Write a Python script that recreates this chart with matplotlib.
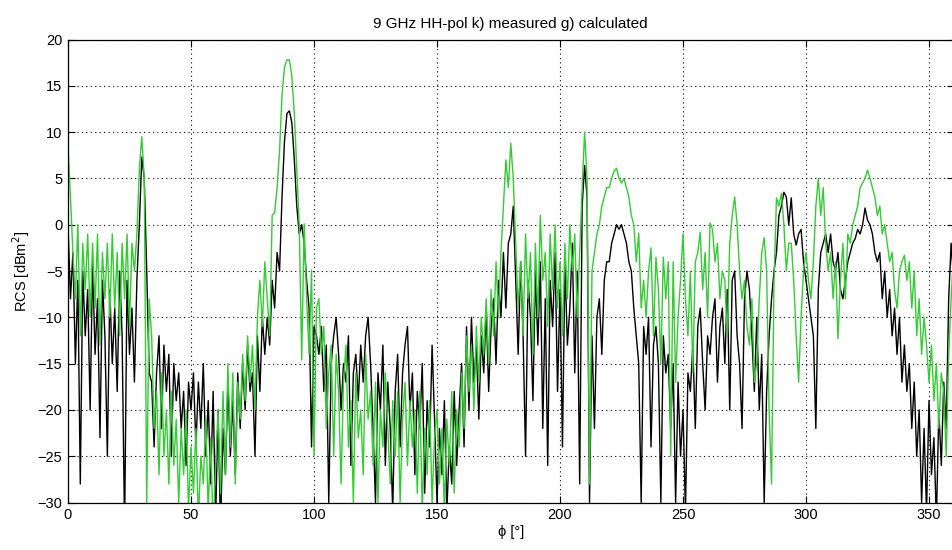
import numpy as np
import matplotlib
matplotlib.use("Agg")
import matplotlib.pyplot as plt

plt.rcParams['font.family'] = ['Liberation Sans', 'DejaVu Sans']

title = "9 GHz HH-pol k) measured g) calculated"
xlabel = "ϕ [°]"
ylabel = "RCS [dBm$^2$]"
xticks = [0, 50, 100, 150, 200, 250, 300, 350]
yticks = [-30, -25, -20, -15, -10, -5, 0, 5, 10, 15, 20]

# angle in degrees, 1 degree steps 0..360
phi = np.arange(0, 361, 1)

# measured RCS (black)
measured = [
    0, -8, -3, -15, -6, -28, -5, -12, -7, -20,
    -4, -14, -8, -23, -6, -12, -25, -7, -15, -9,
    -18, -5, -12, -33, -6, -14, -9, -17, -6, 0,
    7.3, 5, -5, -16, -17, -24, -16, -12, -22, -13,
    -18, -14, -25, -15, -19, -16, -22, -18, -26, -17,
    -20, -16, -24, -17, -22, -15, -25, -19, -28, -18,
    -32, -20, -33, -22, -27, -17, -25, -19, -27, -16,
    -22, -15, -20, -13, -18, -16, -25, -12, -18, -10,
    -14, -10, -13, -6, -9, -3, -5, 3, 9, 12,
    12.3, 11, 7, 2, -1, 0, -2, -6, -9, -24,
    -11, -12, -14, -11, -18, -13, -30, -15, -12, -10,
    -14, -20, -15, -17, -12, -26, -16, -14, -19, -13,
    -17, -12, -10, -15, -22, -30, -16, -20, -13, -26,
    -17, -22, -31, -18, -14, -24, -16, -13, -11, -20,
    -16, -27, -18, -22, -15, -29, -19, -24, -13, -21,
    -30, -22, -27, -19, -31, -24, -28, -18, -26, -20,
    -15, -24, -11, -20, -10, -17, -13, -21, -12, -16,
    -9, -18, -11, -8, -15, -6, -10, -3, -9, -2,
    -1, 2, -6, -14, -4, -12, -25, -6, -10, -19,
    -5, -13, -4, -22, -8, -26, -6, -11, -3, -18,
    -7, -24, -4, -13, -9, -2, -16, -5, -28, 2,
    6.4, 3, -30, -12, -22, -10, -8, -14, -6, -4,
    -4, -2, -1, 0, -0.5, 0, -1, -2, -4, -5,
    -9, -12, -15, -30, -11, -14, -10, -24, -13, -11,
    -15, -30, -12, -16, -14, -22, -15, -30, -17, -25,
    -20, -31, -16, -18, -13, -22, -11, -9, -15, -20,
    -12, -14, -10, -8, -17, -11, -9, -15, -7, -20,
    -6, -5, -12, -15, -22, -8, -5, -7, -12, -18,
    -10, -20, -14, -30, -18, -12, -8, -5, -3, 1,
    2, 3.5, 3, 0, 2.9, -1, -2.2, -1, -0.5, -4,
    -6, -8, -10, -12, -22, -7, -3, -2, -1, -3,
    -1, -4, -5, -3, -7, -8, -6, -4, -3, -2,
    -1.5, -0.5, -1, 0, 1.8, 0.5, 0, -1, -3, -4,
    -3, -8, -5, -10, -7, -12, -9, -14, -10, -17,
    -13, -18, -15, -22, -17, -25, -20, -30, -22, -31,
    -19, -27, -23, -32, -20, -26, -17, -22, -8, -2,
    -6,
]

# calculated RCS (green)
calculated = [
    8.5, 3, -3, -8, 0, -12, -2, -7, -1, -10,
    -2, -9, -1, -13, -3, -8, -2, -10, -1, -9,
    -3, -12, -2, -8, -1, -11, -2, -5, -1, 6,
    9.5, 5, -30, -8, -12, -22, -18, -27, -16, -25,
    -20, -28, -18, -26, -21, -30, -22, -27, -20, -31,
    -24, -29, -22, -32, -25, -28, -21, -31, -23, -33,
    -26, -20, -29, -18, -27, -15, -24, -16, -28, -17,
    -21, -14, -19, -12, -17, -13, -20, -10, -6, -11,
    -4, -8, -12, 1, 1.3, 4, 8, 14, 17, 17.8,
    17.8, 16, 12, 6, 0, -14.6, 0.1, -8, -14, -4.9,
    -25, -9, -8, -14, -11, -22, -16, -13, -25, -14,
    -18, -28, -17, -13, -24, -19, -30, -16, -23, -20,
    -27, -14, -21, -18, -26, -17, -30, -20, -24, -16,
    -22, -28, -19, -25, -18, -30, -21, -17, -26, -19,
    -24, -20, -29, -18, -31, -22, -27, -19, -30, -23,
    -20, -28, -22, -31, -21, -26, -18, -29, -20, -24,
    -16, -22, -12, -18, -13, -20, -11, -17, -10, -14,
    -8, -15, -7, -12, -4, -10, -3, 2, 7, 4,
    8.8, 5, -2, -9, -4, -12, -1, -8, -3, -14,
    -2, -10, 1, -6, -3, -11, -1, -7, 0, -9,
    -4, -12, -2, -8, 0, -5, -1, -10, -3, 4,
    10, 5, -28, -5, -3, -1, 0, 2, 3, 4,
    4, 5, 5.8, 6.1, 5, 4.5, 5, 4, 3, 1,
    0, -4, -0.9, -9, -6, -10, -5, -2.5, -12, -3.5,
    -7, -15, -3.5, -8, -4, -25, -4, -17, -10, -6,
    -1, -8, -12, -5, -16, -4, -3, -0.8, -7, -3,
    -10, 0.2, -0.5, -4, -2, -8, -5, -6, -12, -2,
    1, 3, 0, -5, -8, -6, -11, -13, -8, -17,
    -14.8, -8, -3, -1.4, -5, -20, -28, -6, 2.9, 2,
    3.4, 0, -5, -2, -2, -6, -12, -17, -10, -5,
    -3, -6, -8, -4, 2, 5, 1, 4, -2, -5,
    -3, -8, -4, -12.3, -6, -2, -8, -1, -2, 0,
    1, 2, 4, 4.5, 5, 5.9, 5, 4, 3, 1,
    2, -1, 0, -2, -4, -3, -7, -9, -5, -4,
    -3.3, -6, -4, -9, -5, -12, -8, -14, -10, -13,
    -17, -13, -19, -15, -22, -16, -18, -25, -14, -8,
    -3,
]

fig = plt.figure(figsize=(9.53, 5.50), dpi=100)
ax = fig.add_axes([68 / 953, 1 - 502.5 / 550, 885.6 / 953, 463 / 550])

ax.plot(phi, measured, color='black', lw=1.0)
ax.plot(phi, calculated, color='#33cc33', lw=1.0)

ax.set_xlim(0, 360)
ax.set_ylim(-30, 20)
ax.set_xticks(xticks)
ax.set_yticks(yticks)
ax.tick_params(direction='in', length=5, labelsize=10.5, top=True, right=True, pad=4)
ax.grid(True, linestyle=(0, (1, 3)), color='black', lw=0.8)
for s in ax.spines.values():
    s.set_linewidth(0.9)

ax.set_title(title, fontsize=11, pad=8)
ax.set_xlabel(xlabel, fontsize=10.5, labelpad=2)
ax.set_ylabel(ylabel, fontsize=10.5, labelpad=4)

fig.savefig("out.png", dpi=100)
